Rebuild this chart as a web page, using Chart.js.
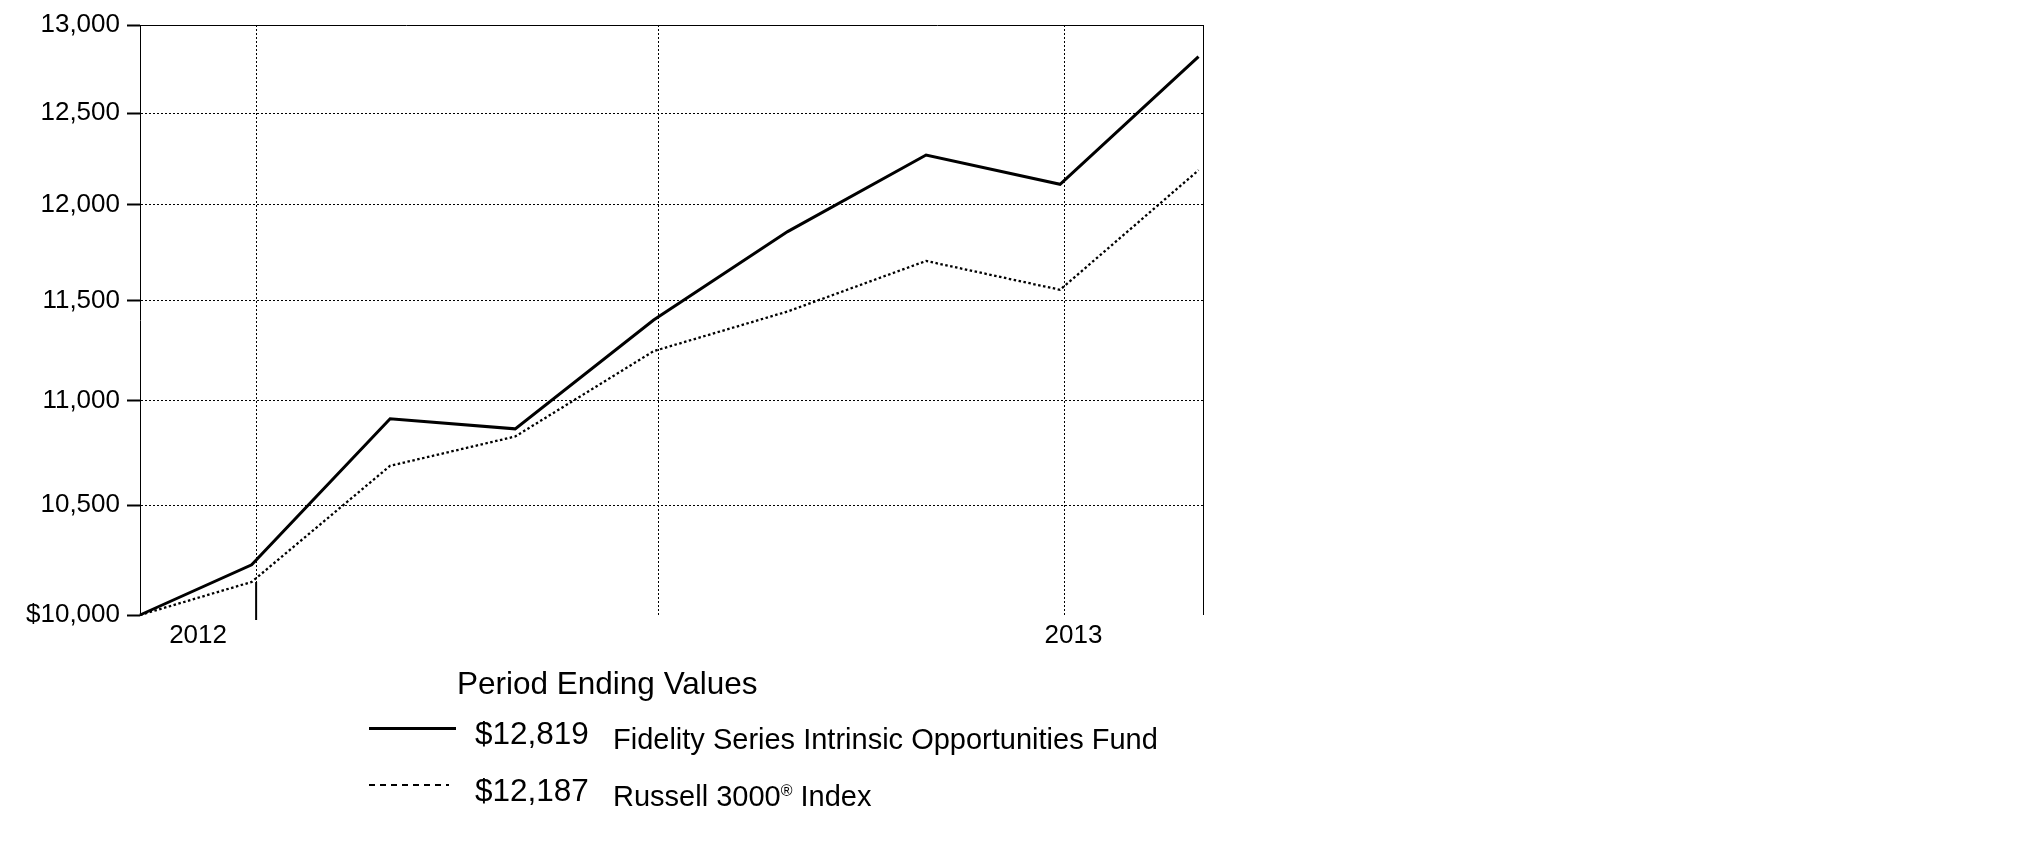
<!DOCTYPE html>
<html>
<head>
<meta charset="utf-8">
<script src="https://cdn.jsdelivr.net/npm/chart.js@4.4.1/dist/chart.umd.min.js"></script>
<style>
  html, body { margin: 0; padding: 0; background: #fff; }
  #wrap { position: relative; width: 2025px; height: 851px; font-family: 'Liberation Sans', Arial, sans-serif; color: #000; }
  #chart { position: absolute; left: 0; top: 0; }
  .t { position: absolute; white-space: nowrap; line-height: 1; }
  .t sup { font-size: 0.55em; line-height: 0; vertical-align: 0.6em; }
  .key { position: absolute; }
</style>
</head>
<body>
<div id="wrap">
  <canvas id="chart" width="2025" height="851"></canvas>
  <div class="t" style="left:457px;top:668px;font-size:31.5px">Period Ending Values</div>
  <div class="key" style="left:369px;top:727px;width:87px;height:3px;background:#000"></div>
  <div class="t" id="val0" style="left:475px;top:718px;font-size:31.5px"></div>
  <div class="t" id="name0" style="left:613px;top:725px;font-size:29px"></div>
  <div class="key" style="left:369px;top:784px;width:80px;height:2px;background:repeating-linear-gradient(to right,#000 0 6px,transparent 6px 11px)"></div>
  <div class="t" id="val1" style="left:475px;top:775px;font-size:31.5px"></div>
  <div class="t" id="name1" style="left:613px;top:782px;font-size:29px"></div>
</div>
<script>
// $10,000 growth chart, log value axis, Dec 2012 - Jul 2013
const periodDates = ['2012-12-06', '2012-12-31', '2013-01-31', '2013-02-28', '2013-03-31',
                     '2013-04-30', '2013-05-31', '2013-06-30', '2013-07-31'];
const fundValues  = [10000, 10226, 10912, 10863, 11402, 11859, 12270, 12111, 12819];
const indexValues = [10000, 10148, 10686, 10826, 11245, 11445, 11705, 11556, 12187];
const seriesNames = ['Fidelity Series Intrinsic Opportunities Fund', 'Russell 3000<sup>®</sup> Index'];

const yTickValues = [10000, 10500, 11000, 11500, 12000, 12500, 13000];
const gridDates = ['2013-01-01', '2013-04-01', '2013-07-01'];
const yearLabels = ['2012', '2013'];
const yearLabelDates = ['2012-12-19', '2013-07-03'];
const axisStart = '2012-12-06';
const axisEnd = '2013-08-01';

const DAY = 86400000;
const toDay = (s) => Date.parse(s) / DAY;
const fmt = (v) => v.toLocaleString('en-US');

function points(values) {
  return periodDates.map((d, i) => ({ x: toDay(d), y: values[i] }));
}

// legend text
[fundValues, indexValues].forEach((vals, i) => {
  document.getElementById('val' + i).textContent = '$' + fmt(vals[vals.length - 1]);
  document.getElementById('name' + i).innerHTML = seriesNames[i];
});

const font = { family: "'Liberation Sans', Arial, sans-serif", size: 26 };

// long tick at the year change
const yearTick = {
  id: 'yearTick',
  afterDatasetsDraw(chart) {
    const { ctx, chartArea, scales } = chart;
    const x = scales.x.getPixelForValue(toDay(gridDates[0]));
    ctx.save();
    ctx.strokeStyle = '#000';
    ctx.lineWidth = 2;
    ctx.beginPath();
    ctx.moveTo(x, chartArea.bottom + 5);
    ctx.lineTo(x, chartArea.bottom - 33);
    ctx.stroke();
    ctx.restore();
  }
};

new Chart(document.getElementById('chart'), {
  type: 'line',
  data: {
    datasets: [
      {
        label: 'Fund',
        data: points(fundValues),
        borderColor: '#000',
        borderWidth: 3,
        pointRadius: 0,
        tension: 0,
        clip: false
      },
      {
        label: 'Index',
        data: points(indexValues),
        borderColor: '#000',
        borderWidth: 2.3,
        borderDash: [2.5, 2.5],
        pointRadius: 0,
        tension: 0,
        clip: false
      }
    ]
  },
  options: {
    responsive: false,
    animation: false,
    devicePixelRatio: 1,
    events: [],
    layout: { padding: { top: 25, right: 822, bottom: 0, left: 0 } },
    plugins: { legend: { display: false }, tooltip: { enabled: false } },
    scales: {
      x: {
        type: 'linear',
        bounds: 'data',
        min: toDay(axisStart),
        max: toDay(axisEnd),
        afterBuildTicks: (scale) => {
          const ticks = gridDates.map((d) => ({ value: toDay(d), kind: 'dot' }));
          ticks.push({ value: toDay(axisEnd), kind: 'solid' });
          yearLabelDates.forEach((d, i) => ticks.push({ value: toDay(d), kind: 'none', text: yearLabels[i] }));
          ticks.sort((a, b) => a.value - b.value);
          scale.ticks = ticks;
        },
        afterFit: (scale) => { scale.height = 236; },
        grid: {
          color: (ctx) => (ctx.tick && ctx.tick.kind === 'none' ? 'rgba(0,0,0,0)' : '#000'),
          lineWidth: 1,
          drawTicks: false
        },
        border: {
          display: false,
          dash: (ctx) => (ctx.tick && ctx.tick.kind === 'dot' ? [2, 2] : [])
        },
        ticks: {
          autoSkip: false,
          maxRotation: 0,
          padding: 5,
          color: '#000',
          font: font,
          callback: (value, index, ticks) => ticks[index].text || ''
        }
      },
      y: {
        type: 'logarithmic',
        bounds: 'data',
        min: yTickValues[0],
        max: yTickValues[yTickValues.length - 1],
        afterBuildTicks: (scale) => {
          scale.ticks = yTickValues.map((v) => ({ value: v }));
        },
        afterFit: (scale) => { scale.width = 140; },
        grid: {
          color: (ctx) => (ctx.tick && ctx.tick.value === yTickValues[0] ? 'rgba(0,0,0,0)' : '#000'),
          lineWidth: 1,
          tickLength: 13,
          tickWidth: 2,
          tickColor: '#000',
          tickBorderDash: []
        },
        border: {
          display: true,
          color: '#000',
          width: 1,
          dash: (ctx) => {
            if (!ctx.tick) return [];
            return ctx.tick.value === yTickValues[yTickValues.length - 1] ? [] : [2, 2];
          }
        },
        ticks: {
          autoSkip: false,
          padding: 7,
          color: '#000',
          font: font,
          callback: (v) => (v === yTickValues[0] ? '$' + fmt(v) : fmt(v))
        }
      }
    }
  },
  plugins: [yearTick]
});
</script>
</body>
</html>
